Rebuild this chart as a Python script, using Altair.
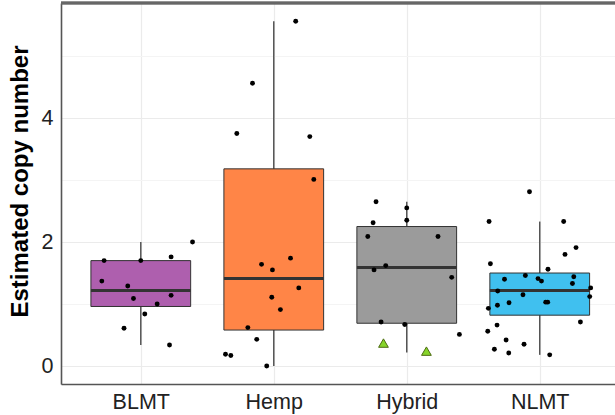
import altair as alt
import pandas as pd

# ---- data -------------------------------------------------------------
categories = ["BLMT", "Hemp", "Hybrid", "NLMT"]
box_colors = ["#ae5fae", "#ff8547", "#9b9b9b", "#40c0ef"]

# box-plot summaries per group
whisker_lo = [0.34, 0.00, 0.22, 0.18]
q1 = [0.96, 0.58, 0.69, 0.82]
median = [1.22, 1.41, 1.59, 1.22]
q3 = [1.70, 3.18, 2.25, 1.50]
whisker_hi = [2.00, 5.56, 2.65, 2.33]

# individual samples (value, horizontal jitter in category units)
blmt_vals = [1.70, 1.70, 1.76, 2.00, 1.37, 1.29, 1.09, 1.14, 1.00, 0.84, 0.61, 0.34]
blmt_jit = [-0.276, 0.0, 0.228, 0.389, -0.293, -0.098, -0.055, 0.228, 0.123, 0.030, -0.126, 0.216]

hemp_vals = [5.56, 4.56, 3.75, 3.70, 3.01, 1.64, 1.55, 1.74, 1.26, 1.11, 0.91, 0.62, 0.43, 0.19, 0.17, 0.00]
hemp_jit = [0.165, -0.160, -0.278, 0.271, 0.301, -0.092, -0.010, 0.126, 0.188, -0.015, 0.050, -0.195, -0.128, -0.363, -0.323, -0.053]

hybrid_vals = [2.65, 2.55, 2.35, 2.31, 2.09, 2.09, 1.62, 1.55, 1.43, 0.71, 0.67, 0.51]
hybrid_jit = [-0.231, 0.0, 0.0, -0.253, -0.293, 0.235, -0.158, -0.246, 0.338, -0.193, -0.015, 0.396]

nlmt_vals = [2.81, 2.33, 2.33, 1.91, 1.80, 1.65, 1.56, 1.46, 1.40, 1.41, 1.37, 1.44, 1.33, 1.26, 1.21,
             1.15, 1.12, 1.02, 1.03, 1.03, 0.98, 0.93, 0.71, 0.66, 0.56, 0.42, 0.35, 0.27, 0.21, 0.18]
nlmt_jit = [-0.077, -0.381, 0.180, 0.273, 0.190, -0.371, 0.062, -0.108, -0.265, -0.013, 0.013, 0.256, 0.246,
            0.383, -0.316, -0.126, 0.376, -0.231, 0.045, 0.060, -0.318, -0.386, 0.306, -0.321, -0.391,
            -0.253, -0.118, -0.341, -0.233, 0.075]

# highlighted hybrid samples
marked_vals = [0.37, 0.24]
marked_jit = [-0.175, 0.148]

# ---- tables -----------------------------------------------------------
boxes = pd.DataFrame({
    "group": categories,
    "idx": list(range(len(categories))),
    "lo": whisker_lo, "q1": q1, "median": median, "q3": q3, "hi": whisker_hi,
})

rows = []
for name, vals, jit in [("BLMT", blmt_vals, blmt_jit), ("Hemp", hemp_vals, hemp_jit),
                        ("Hybrid", hybrid_vals, hybrid_jit), ("NLMT", nlmt_vals, nlmt_jit)]:
    for v, j in zip(vals, jit):
        rows.append({"group": name, "value": v, "jit": j, "idx": categories.index(name)})
points = pd.DataFrame(rows)
marked = pd.DataFrame({"group": "Hybrid", "value": marked_vals, "jit": marked_jit,
                       "idx": categories.index("Hybrid")})

# ---- scales / axes ----------------------------------------------------
W, H = 554, 381
label_expr = "[" + ",".join(f"'{c}'" for c in categories) + "][datum.value]"
x_scale = alt.Scale(domain=[-0.6, 3.566], nice=False, zero=False)
y_scale = alt.Scale(domain=[-0.29, 5.855], nice=False, zero=False)

x_axis = alt.Axis(
    values=[0, 1, 2, 3], labelExpr=label_expr, title=None, ticks=False,
    labelFontSize=21.5, labelColor="#222", labelPadding=7, labelFont="Liberation Sans",
    grid=True, gridColor="#ebebeb", gridWidth=1.2,
    domain=True, domainColor="#555", domainWidth=1.6,
)
y_axis = alt.Axis(
    values=[0, 1, 2, 3, 4, 5], labelExpr="datum.value % 2 === 0 ? datum.label : ''",
    title="Estimated copy number", titleFontSize=24, titleFontWeight="bold",
    titleFont="Liberation Sans", titleColor="#000", titlePadding=9, titleY=178,
    ticks=False, labelFontSize=21.5, labelColor="#222", labelPadding=8, labelFont="Liberation Sans",
    grid=True, gridWidth=1.2,
    gridColor={"condition": {"test": "datum.value % 2 === 0", "value": "#ebebeb"}, "value": "#f4f4f4"},
    domain=True, domainColor="#555", domainWidth=1.6,
)

def xq(field):
    return alt.X(field, type="quantitative", scale=x_scale, axis=x_axis)

def yq(field):
    return alt.Y(field, type="quantitative", scale=y_scale, axis=y_axis)

base = alt.Chart(boxes)

whiskers = base.mark_rule(color="#555", strokeWidth=1.5).encode(
    x=xq("idx"), y=yq("lo"), y2="hi"
)

rects = base.transform_calculate(
    left="datum.idx - 0.375", right="datum.idx + 0.375"
).mark_rect(stroke="#333", strokeWidth=1, opacity=1).encode(
    x=xq("left"), x2="right", y=yq("q1"), y2="q3",
    color=alt.Color("group:N", scale=alt.Scale(domain=categories, range=box_colors), legend=None),
)

medians = base.transform_calculate(
    left="datum.idx - 0.375", right="datum.idx + 0.375"
).mark_rule(color="#333", strokeWidth=3).encode(
    x=xq("left"), x2="right", y=yq("median")
)

dots = alt.Chart(points).transform_calculate(
    xpos="datum.idx + datum.jit"
).mark_circle(size=24, color="black", opacity=1).encode(
    x=xq("xpos"), y=yq("value")
)

triangles = alt.Chart(marked).transform_calculate(
    xpos="datum.idx + datum.jit"
).mark_point(shape="triangle-up", filled=True, fill="#86d42a", stroke="#4d6b12",
             strokeWidth=1, size=95, opacity=1).encode(
    x=xq("xpos"), y=yq("value")
)

top_border = alt.Chart(boxes).mark_rule(color="#666", strokeWidth=2.5).encode(
    x=alt.value(0), x2=alt.value(W), y=alt.value(0)
)

chart = alt.layer(whiskers, rects, medians, dots, triangles, top_border).properties(
    width=W, height=H,
    padding={"left": 61, "top": 3, "right": 0, "bottom": 31},
    autosize=alt.AutoSizeParams(type="none"),
).configure_view(stroke=None).configure(background="white")

chart.save("out.html", embed_options={"renderer": "svg", "actions": False})
